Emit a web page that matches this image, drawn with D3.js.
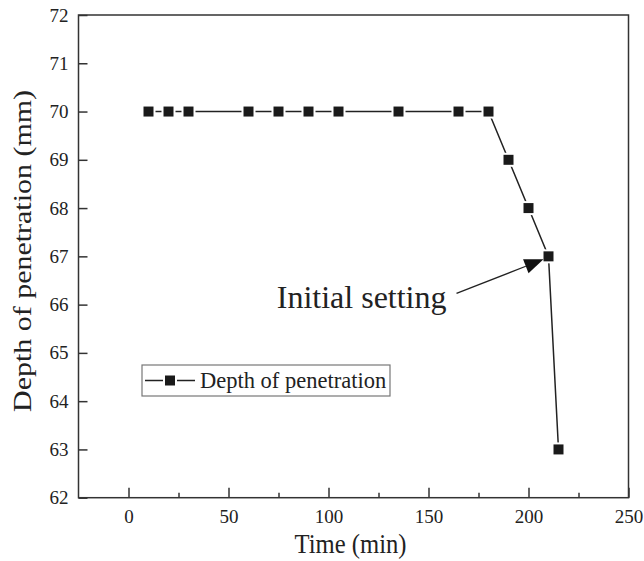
<!DOCTYPE html>
<html>
<head>
<meta charset="utf-8">
<script src="https://cdn.jsdelivr.net/npm/d3@7"></script>
<style>
  html, body { margin: 0; padding: 0; background: #fff; }
  svg { display: block; }
  svg text { font-family: "Liberation Serif", "Times New Roman", serif !important; fill: #222; }
</style>
</head>
<body>
<svg id="chart" width="644" height="561"></svg>
<script>
// ---- data ----
const times = [10, 20, 30, 60, 75, 90, 105, 135, 165, 180, 190, 200, 210, 215];
const depths = [70, 70, 70, 70, 70, 70, 70, 70, 70, 70, 69, 68, 67, 63];
const xTicks = [0, 50, 100, 150, 200, 250];
const xMinorTicks = [25, 75, 125, 175, 225];
const yTicks = [62, 63, 64, 65, 66, 67, 68, 69, 70, 71, 72];
const seriesName = "Depth of penetration";
const xTitle = "Time (min)";
const yTitle = "Depth of penetration (mm)";
const annotationText = "Initial setting";
const annotationIndex = 12; // point (210, 67)

// ---- layout ----
const serif = '"Liberation Serif", "Times New Roman", serif';
const svg = d3.select("#chart");
const L = 78.5, R = 628.5, T = 15, B = 497.7;
const x = d3.scaleLinear().domain([-25, 250]).range([L, R]);
const y = d3.scaleLinear().domain([62, 72]).range([B, T]);
const ink = "#222";

// axes
const xAxis = d3.axisBottom(x).tickValues(xTicks).tickSize(-10).tickPadding(12).tickFormat(d3.format("d"));
const gx = svg.append("g").attr("transform", `translate(0,${B})`).call(xAxis);
const xMinor = d3.axisBottom(x).tickValues(xMinorTicks).tickSize(-5).tickFormat("");
const gxm = svg.append("g").attr("transform", `translate(0,${B})`).call(xMinor);
const yAxis = d3.axisLeft(y).tickValues(yTicks).tickSize(-9).tickPadding(10).tickFormat(d3.format("d"));
const gy = svg.append("g").attr("transform", `translate(${L},0)`).call(yAxis);

[gx, gxm, gy].forEach(g => {
  g.attr("font-family", serif).attr("font-size", 19);
  g.select(".domain").remove();
  g.selectAll(".tick line").attr("stroke", "#333").attr("stroke-width", 1.5);
  g.selectAll(".tick text").style("font-family", serif).style("font-size", "19px").attr("fill", ink);
});

// frame
svg.append("rect").attr("x", L).attr("y", T).attr("width", R - L).attr("height", B - T)
  .attr("fill", "none").attr("stroke", "#333").attr("stroke-width", 1.5);

// axis titles
svg.append("text").attr("x", 350.5).attr("y", 553).attr("text-anchor", "middle")
  .attr("font-size", 27).attr("textLength", 112).attr("lengthAdjust", "spacingAndGlyphs")
  .text(xTitle);
svg.append("text").attr("transform", "translate(31,251) rotate(-90)").attr("text-anchor", "middle")
  .attr("font-size", 25).attr("textLength", 322).attr("lengthAdjust", "spacingAndGlyphs")
  .text(yTitle);

// series
const pts = times.map((t, i) => [t, depths[i]]);
const line = d3.line().x(d => x(d[0])).y(d => y(d[1]));
svg.append("path").datum(pts).attr("d", line).attr("fill", "none")
  .attr("stroke", ink).attr("stroke-width", 1.5);
svg.selectAll("rect.pt").data(pts).enter().append("rect").attr("class", "pt")
  .attr("x", d => x(d[0]) - 6).attr("y", d => y(d[1]) - 6)
  .attr("width", 12).attr("height", 12)
  .attr("fill", "#1a1a1a").attr("stroke", "#fff").attr("stroke-width", 2);

// annotation
const ap = pts[annotationIndex];
const px = x(ap[0]), py = y(ap[1]);
const sx = px - 92, sy = py + 37;   // arrow start
const tx = px - 5, ty = py + 3;     // arrow tip
const dx = tx - sx, dy = ty - sy, len = Math.hypot(dx, dy);
const ux = dx / len, uy = dy / len;
const headL = 19, headW = 7.5;
const bx = tx - ux * headL, by = ty - uy * headL;
svg.append("line").attr("x1", sx).attr("y1", sy).attr("x2", bx).attr("y2", by)
  .attr("stroke", ink).attr("stroke-width", 1.3);
svg.append("polygon")
  .attr("points", [[tx, ty], [bx - uy * headW, by + ux * headW], [bx + uy * headW, by - ux * headW]].map(p => p.join(",")).join(" "))
  .attr("fill", "#111");
svg.append("text").attr("x", px - 102).attr("y", py + 52).attr("text-anchor", "end")
  .attr("font-size", 32).text(annotationText);

// legend
const lg = svg.append("g");
lg.append("rect").attr("x", 142).attr("y", 365).attr("width", 248).attr("height", 31)
  .attr("fill", "#fff").attr("stroke", "#777").attr("stroke-width", 1.2);
lg.append("line").attr("x1", 145).attr("x2", 195).attr("y1", 380.5).attr("y2", 380.5)
  .attr("stroke", ink).attr("stroke-width", 1.5);
lg.append("rect").attr("x", 170 - 6).attr("y", 380.5 - 6).attr("width", 12).attr("height", 12)
  .attr("fill", "#1a1a1a").attr("stroke", "#fff").attr("stroke-width", 2);
lg.append("text").attr("x", 200).attr("y", 388).attr("font-size", 22.5).text(seriesName);
</script>
</body>
</html>
